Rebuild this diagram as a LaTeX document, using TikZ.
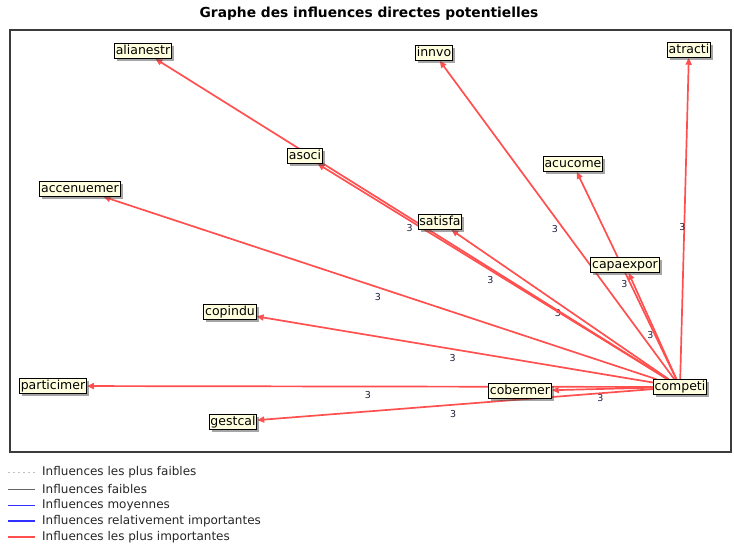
\documentclass[tikz,border=0pt]{standalone}
\usepackage{fontspec}
\setmainfont{DejaVu Sans}
\usetikzlibrary{arrows.meta,shadows,backgrounds}
\definecolor{infl}{HTML}{FF4F4F}
\definecolor{boxfill}{HTML}{FFFFE0}
\definecolor{frameink}{HTML}{3C3C3C}
\definecolor{numink}{HTML}{1E1E3C}
\definecolor{weakblue}{HTML}{3030FF}

\begin{document}
\begin{tikzpicture}[x=1pt, y=-1pt, font=\fontsize{12.5}{13}\selectfont,
    var/.style={draw=black, line width=1pt, fill=boxfill, inner xsep=1.2pt, inner ysep=1.5pt,
      text height=9pt, text depth=2.5pt,
      drop shadow={shadow xshift=2.5pt, shadow yshift=-2.5pt, fill=black!70}},
    strong/.style={draw=infl, line width=1.7pt, -{Triangle[length=7pt,width=6pt]}},
    wt/.style={midway, font=\fontsize{9.5}{9}\selectfont, text=numink, xshift=-2pt, yshift=-9pt, inner sep=0pt},
    legtext/.style={anchor=west, font=\fontsize{12}{12}\selectfont, text=black!85, inner sep=0pt}]
    \useasboundingbox (0,0) rectangle (734,551);
    % title and frame
    \node[font=\bfseries\fontsize{13.8}{14}\selectfont] (title) at (369,14) {Graphe des influences directes potentielles};
    \draw[frameink, line width=1.1pt] (10,30) rectangle (731,452);

    % variables
    \node[var] (alianestr) at (143,51) {alianestr};
    \node[var] (innvo) at (434,53) {innvo};
    \node[var] (atracti) at (689,50) {atracti};
    \node[var] (asoci) at (305,156) {asoci};
    \node[var] (acucome) at (573,164) {acucome};
    \node[var] (accenuemer) at (80,189) {accenuemer};
    \node[var] (satisfa) at (440,222) {satisfa};
    \node[var] (capaexpor) at (625,265) {capaexpor};
    \node[var] (copindu) at (230,312) {copindu};
    \node[var] (particimer) at (53,386) {particimer};
    \node[var] (cobermer) at (520,391) {cobermer};
    \node[var] (competi) at (680,387) {competi};
    \node[var] (gestcal) at (233,422) {gestcal};

    % influences
    \begin{pgfonlayer}{background}
      \draw[strong] (competi) -- node[wt]{3} (atracti);
      \draw[strong] (competi) -- node[wt]{3} (acucome);
      \draw[strong] (competi) -- node[wt]{3} (capaexpor);
      \draw[strong] (competi) -- node[wt]{3} (innvo);
      \draw[strong] (competi) -- node[wt]{3} (satisfa);
      \draw[strong] (competi) -- node[wt]{3} (asoci);
      \draw[strong] (competi) -- node[wt]{3} (alianestr);
      \draw[strong] (competi) -- node[wt]{3} (accenuemer);
      \draw[strong] (competi) -- node[wt]{3} (copindu);
      \draw[strong] (competi) -- node[wt]{3} (particimer);
      \draw[strong] (competi) -- node[wt]{3} (cobermer);
      \draw[strong] (competi) -- node[wt]{3} (gestcal);
    \end{pgfonlayer}

    % legend
    \node[legtext] (leg1) at (42,472) {Influences les plus faibles};
    \node[legtext] (leg2) at (42,489) {Influences faibles};
    \node[legtext] (leg3) at (42,505) {Influences moyennes};
    \node[legtext] (leg4) at (42,521) {Influences relativement importantes};
    \node[legtext] (leg5) at (42,537) {Influences les plus importantes};
    \draw[black!25, line width=0.6pt, dash pattern=on 2pt off 3pt] ([xshift=-34pt]leg1.west) -- ([xshift=-7pt]leg1.west);
    \draw[black!60, line width=0.8pt] ([xshift=-34pt]leg2.west) -- ([xshift=-7pt]leg2.west);
    \draw[weakblue, line width=1pt] ([xshift=-34pt]leg3.west) -- ([xshift=-7pt]leg3.west);
    \draw[weakblue, line width=1.8pt] ([xshift=-34pt]leg4.west) -- ([xshift=-7pt]leg4.west);
    \draw[infl, line width=1.8pt] ([xshift=-34pt]leg5.west) -- ([xshift=-7pt]leg5.west);
  \end{tikzpicture}
\end{document}
